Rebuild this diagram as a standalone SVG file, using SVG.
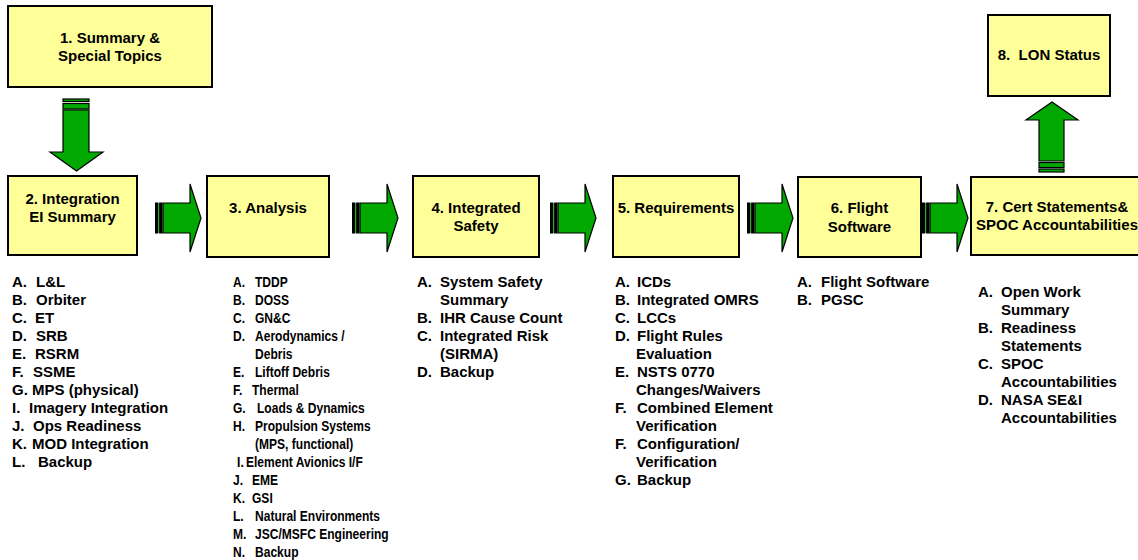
<svg xmlns="http://www.w3.org/2000/svg" width="1138" height="560" viewBox="0 0 1138 560">
<defs>
<style>
.box{fill:#FFFF99;stroke:#000;stroke-width:2}
.lbl{font-family:"Liberation Sans",Arial,sans-serif;font-weight:bold;font-size:15px;fill:#000;text-anchor:middle}
.li{font-family:"Liberation Sans",Arial,sans-serif;font-weight:bold;font-size:15px;fill:#000}
.sm{font-size:14px}
.arr{fill:#00A800;stroke:#000;stroke-width:1.2;stroke-linejoin:miter}
.stripe{fill:#000}
</style>
<g id="harrow">
<rect class="stripe" x="0" y="-15.5" width="3.2" height="31"/>
<rect x="3.2" y="-15" width="0.9" height="30" fill="#00A800"/>
<rect class="stripe" x="4.1" y="-15.5" width="3.4" height="31"/>
<path class="arr" d="M8,-15 H35 V-34 L46,0 L35,34 V15 H8 Z"/>
</g>
</defs>
<rect width="1138" height="560" fill="#fff"/>

<g id="connectors">
<g id="arrow-1-2">
<rect class="arr" x="63" y="99" width="26" height="2.5"/>
<rect class="arr" x="63" y="103.5" width="26" height="5.5"/>
<path class="arr" d="M63,110 H89 V152 H103 L76.5,171 L50,152 H63 Z"/>
</g>
<use href="#harrow" x="155" y="218"/>
<use href="#harrow" x="352" y="218"/>
<use href="#harrow" x="550" y="218"/>
<use href="#harrow" x="747" y="218"/>
<use href="#harrow" x="922" y="218"/>
<g id="arrow-7-8">
<rect class="arr" x="1039" y="169" width="25" height="3"/>
<rect class="arr" x="1039" y="162.5" width="25" height="5"/>
<path class="arr" d="M1039,161 V120 H1026 L1052,102 L1078,120 H1064 V161 Z"/>
</g>
</g>

<g id="node1">
<rect class="box" x="8" y="6" width="204" height="81"/>
<text class="lbl" x="110" y="43">1. Summary &amp;</text>
<text class="lbl" x="110" y="61">Special Topics</text>
</g>

<g id="node2">
<rect class="box" x="8" y="176" width="129" height="79"/>
<text class="lbl" x="72.5" y="204">2. Integration</text>
<text class="lbl" x="72.5" y="222">EI Summary</text>
</g>

<g id="node3">
<rect class="box" x="207" y="176" width="122" height="81"/>
<text class="lbl" x="268" y="213">3. Analysis</text>
</g>

<g id="node4">
<rect class="box" x="413" y="176" width="126" height="81"/>
<text class="lbl" x="476" y="213">4. Integrated</text>
<text class="lbl" x="476" y="231">Safety</text>
</g>

<g id="node5">
<rect class="box" x="613" y="176" width="126" height="81"/>
<text class="lbl" x="676" y="213">5. Requirements</text>
</g>

<g id="node6">
<rect class="box" x="798" y="177" width="123" height="80"/>
<text class="lbl" x="859.5" y="213">6. Flight</text>
<text class="lbl" x="859.5" y="232">Software</text>
</g>

<g id="node7">
<rect class="box" x="971" y="177" width="172" height="78"/>
<text class="lbl" x="1057" y="212">7. Cert Statements&amp;</text>
<text class="lbl" x="1057" y="230">SPOC Accountabilities</text>
</g>

<g id="node8">
<rect class="box" x="988" y="15" width="122" height="81"/>
<text class="lbl" x="1049" y="60">8.&#160; LON Status</text>
</g>

<g id="list2">
<text class="li" x="12" y="287">A.</text><text class="li" x="36" y="287">L&amp;L</text>
<text class="li" x="12" y="305">B.</text><text class="li" x="36" y="305">Orbiter</text>
<text class="li" x="12" y="323">C.</text><text class="li" x="35" y="323">ET</text>
<text class="li" x="12" y="341">D.</text><text class="li" x="36" y="341">SRB</text>
<text class="li" x="12" y="359">E.</text><text class="li" x="35" y="359">RSRM</text>
<text class="li" x="12" y="377">F.</text><text class="li" x="33" y="377">SSME</text>
<text class="li" x="12" y="395">G. MPS (physical)</text>
<text class="li" x="12" y="413">I.</text><text class="li" x="29" y="413">Imagery Integration</text>
<text class="li" x="12" y="431">J.</text><text class="li" x="33" y="431">Ops Readiness</text>
<text class="li" x="12" y="449">K.</text><text class="li" x="32" y="449">MOD Integration</text>
<text class="li" x="12" y="467">L.</text><text class="li" x="38" y="467">Backup</text>
</g>

<g id="list3" transform="translate(233,0) scale(0.86,1)">
<text class="li sm" x="0" y="287">A.</text><text class="li sm" x="25.6" y="287">TDDP</text>
<text class="li sm" x="0" y="305">B.</text><text class="li sm" x="25.6" y="305">DOSS</text>
<text class="li sm" x="0" y="323">C.</text><text class="li sm" x="25.6" y="323">GN&amp;C</text>
<text class="li sm" x="0" y="341">D.</text><text class="li sm" x="25.6" y="341">Aerodynamics /</text>
<text class="li sm" x="25.6" y="359">Debris</text>
<text class="li sm" x="0" y="377">E.</text><text class="li sm" x="25.6" y="377">Liftoff Debris</text>
<text class="li sm" x="0" y="395">F.</text><text class="li sm" x="22.1" y="395">Thermal</text>
<text class="li sm" x="0" y="413">G.</text><text class="li sm" x="27.9" y="413">Loads &amp; Dynamics</text>
<text class="li sm" x="0" y="431">H.</text><text class="li sm" x="25.6" y="431">Propulsion Systems</text>
<text class="li sm" x="25.6" y="449">(MPS, functional)</text>
<text class="li sm" x="4.7" y="467">I.</text><text class="li sm" x="15.1" y="467">Element Avionics I/F</text>
<text class="li sm" x="0" y="485">J.</text><text class="li sm" x="22.1" y="485">EME</text>
<text class="li sm" x="0" y="503">K.</text><text class="li sm" x="22.1" y="503">GSI</text>
<text class="li sm" x="0" y="521">L.</text><text class="li sm" x="25.6" y="521">Natural Environments</text>
<text class="li sm" x="0" y="539">M.</text><text class="li sm" x="25.6" y="539">JSC/MSFC Engineering</text>
<text class="li sm" x="0" y="557">N.</text><text class="li sm" x="25.6" y="557">Backup</text>
</g>

<g id="list4">
<text class="li" x="417" y="287">A.</text><text class="li" x="440" y="287">System Safety</text>
<text class="li" x="440" y="305">Summary</text>
<text class="li" x="417" y="323">B.</text><text class="li" x="440" y="323">IHR Cause Count</text>
<text class="li" x="417" y="341">C.</text><text class="li" x="440" y="341">Integrated Risk</text>
<text class="li" x="440" y="359">(SIRMA)</text>
<text class="li" x="417" y="377">D.</text><text class="li" x="440" y="377">Backup</text>
</g>

<g id="list5">
<text class="li" x="615" y="287">A.</text><text class="li" x="637" y="287">ICDs</text>
<text class="li" x="615" y="305">B.</text><text class="li" x="637" y="305">Integrated OMRS</text>
<text class="li" x="615" y="323">C.</text><text class="li" x="637" y="323">LCCs</text>
<text class="li" x="615" y="341">D.</text><text class="li" x="637" y="341">Flight Rules</text>
<text class="li" x="636" y="359">Evaluation</text>
<text class="li" x="615" y="377">E.</text><text class="li" x="637" y="377">NSTS 0770</text>
<text class="li" x="636" y="395">Changes/Waivers</text>
<text class="li" x="615" y="413">F.</text><text class="li" x="637" y="413">Combined Element</text>
<text class="li" x="636" y="431">Verification</text>
<text class="li" x="615" y="449">F.</text><text class="li" x="637" y="449">Configuration/</text>
<text class="li" x="636" y="467">Verification</text>
<text class="li" x="615" y="485">G.</text><text class="li" x="637" y="485">Backup</text>
</g>

<g id="list6">
<text class="li" x="797" y="287">A.</text><text class="li" x="821" y="287">Flight Software</text>
<text class="li" x="797" y="305">B.</text><text class="li" x="821" y="305">PGSC</text>
</g>

<g id="list7">
<text class="li" x="978" y="297">A.</text><text class="li" x="1001" y="297">Open Work</text>
<text class="li" x="1001" y="315">Summary</text>
<text class="li" x="978" y="333">B.</text><text class="li" x="1001" y="333">Readiness</text>
<text class="li" x="1001" y="351">Statements</text>
<text class="li" x="978" y="369">C.</text><text class="li" x="1001" y="369">SPOC</text>
<text class="li" x="1001" y="387">Accountabilities</text>
<text class="li" x="978" y="405">D.</text><text class="li" x="1001" y="405">NASA SE&amp;I</text>
<text class="li" x="1001" y="423">Accountabilities</text>
</g>
</svg>
